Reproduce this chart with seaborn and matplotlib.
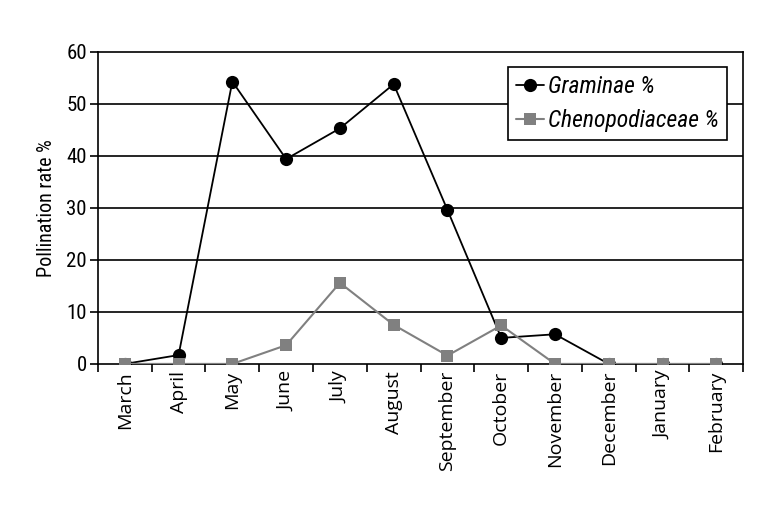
import numpy as np
import pandas as pd
import seaborn as sns
import matplotlib.pyplot as plt

months = ["March", "April", "May", "June", "July", "August", "September",
          "October", "November", "December", "January", "February"]
graminae = [0.0, 1.7, 54.3, 39.4, 45.3, 53.8, 29.6, 5.0, 5.7, 0.0, 0.0, 0.0]
chenopodiaceae = [0.0, 0.0, 0.0, 3.6, 15.6, 7.5, 1.6, 7.4, 0.0, 0.0, 0.0, 0.0]

sns.set_style("white")
plt.rcParams['font.family'] = ['Liberation Sans Narrow', 'Roboto Condensed', 'Roboto', 'DejaVu Sans']
plt.rcParams['text.color'] = 'black'
plt.rcParams['axes.labelcolor'] = 'black'
plt.rcParams['xtick.color'] = 'black'
plt.rcParams['ytick.color'] = 'black'

fig = plt.figure(figsize=(7.71, 5.14), dpi=100)
ax = fig.add_axes([0.127, 0.292, 0.837, 0.607])

for y in range(10, 60, 10):
    ax.axhline(y, color='black', lw=1.2, zorder=0)

x = np.arange(len(months))
sns.lineplot(x=x, y=graminae, ax=ax, color='black', marker='o', markersize=9.5,
             markeredgewidth=0, lw=1.3, label='Graminae %', zorder=2)
sns.lineplot(x=x, y=chenopodiaceae, ax=ax, color='#808080', marker='s', markersize=8,
             markeredgewidth=0, lw=1.5, label='Chenopodiaceae %', zorder=3)

ax.set_xlim(-0.5, len(months) - 0.5)
ax.set_ylim(0, 60)
ax.set_yticks(range(0, 61, 10))
ax.set_xticks(x)
ax.set_xticklabels(months, rotation=90, fontsize=14, family=['Open Sans', 'DejaVu Sans'])
ax.set_xticks(np.arange(-0.5, len(months), 1), minor=True)
ax.tick_params(axis='x', which='major', length=0, pad=5)
ax.tick_params(axis='x', which='minor', length=6, width=1.2, direction='out', bottom=True)
ax.tick_params(axis='y', length=6, width=1.2, direction='out', left=True, labelsize=15, pad=2)
ax.set_ylabel("Pollination rate %", fontsize=14.5, labelpad=7)
for s in ax.spines.values():
    s.set_color('black')
    s.set_linewidth(1.2)

leg = ax.legend(loc='upper right', bbox_to_anchor=(0.975, 0.952), borderaxespad=0,
                prop={'style': 'italic', 'size': 17}, frameon=True, fancybox=False,
                edgecolor='black', framealpha=1, handlelength=1.2, handletextpad=0.15,
                borderpad=0.35, labelspacing=0.45)
leg.get_frame().set_linewidth(1.2)

fig.savefig("out.png", dpi=100)
